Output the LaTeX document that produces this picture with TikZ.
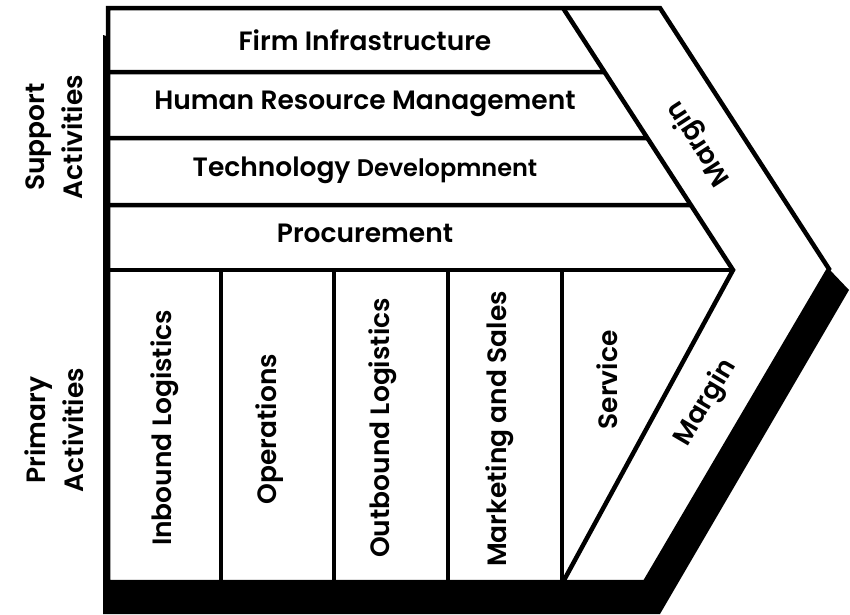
\documentclass[tikz,border=0pt]{standalone}
\usepackage{fontspec}
\setmainfont{Poppins}[BoldFont={Poppins SemiBold}]
\usepackage{tikz}
\usetikzlibrary{calc,positioning}
\tikzset{%
	actlabel/.style = {font=\bfseries\fontsize{26.5}{38}\selectfont, text centered, inner sep=0pt},
	column/.style   = {actlabel, rotate=90},
	margintxt/.style= {actlabel},
	sidetxt/.style  = {actlabel, rotate=90, align=center},
	outline/.style  = {line width=4.5pt, line join=miter},
}
\begin{document}
\begin{tikzpicture}[x=1pt,y=-1pt]
		\useasboundingbox (0,0) rectangle (850,614);
		% outer chevron and inner chevron
		\coordinate (tl) at (108,8);
		\coordinate (tr) at (660,8);
		\coordinate (tip) at (829,269);
		\coordinate (br) at (645,582);
		\coordinate (bl) at (108,582);
		\coordinate (itop) at (563,8);
		\coordinate (itip) at (733,270);
		\coordinate (ibot) at (563,582);
		\fill[black] (103,35) -- (103,614) -- (660,614) -- (849,290) -- (tip) -- cycle;
		\draw[outline, fill=white] (tl) -- (tr) -- (tip) -- (br) -- (bl) -- cycle;
		\draw[outline] (itop) -- (itip) -- (ibot);
		
		% support rows
		\foreach \y in {72,138,205}
			\draw[outline] (108,\y) -- ($(itop)!{(\y-8)/262}!(itip)$);
		\draw[outline] (108,270) -- (itip);
		% primary columns
		\foreach \x in {221,334,448,562}
			\draw[outline, line width=4pt] (\x,270) -- (\x,582);
		
		\node[actlabel] (firm) at (365,40) {Firm Infrastructure};
		\node[actlabel] (hrm) at (365,104) {Human Resource Management};
		\node[actlabel] (tech) at (365,170) {Technology {\fontsize{24}{28}\selectfont Developmnent}};
		\node[actlabel] (proc) at (365,233) {Procurement};
		
		\node[column] (inb) at (165,428) {Inbound Logistics};
		\node[column] (ops) at (270,429) {Operations};
		\node[column] (outb) at (383,428) {Outbound Logistics};
		\node[column] (mks) at (500,429) {Marketing and Sales};
		\node[column] (serv) at (607,380) {Service};
		
		\node[margintxt, rotate=123] (mtop) at (699,143) {Margin};
		\node[margintxt, rotate=59.5] (mbot) at (706,403) {Margin};
		
		\node[sidetxt] (sup) at (54,137) {Support\\Activities};
		\node[sidetxt] (pri) at (54,430) {Primary\\Activities};
		\end{tikzpicture}
\end{document}
